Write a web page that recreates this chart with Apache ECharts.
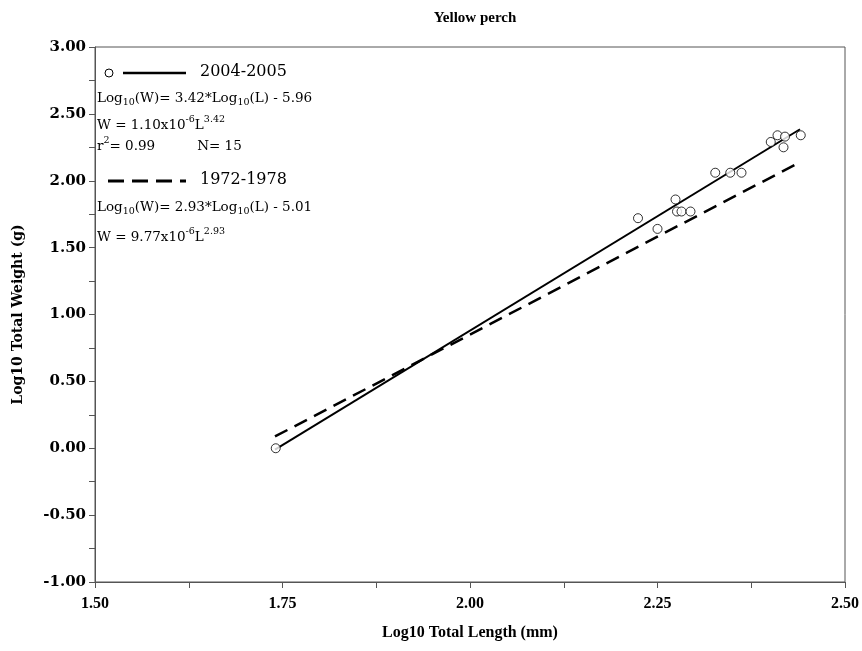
<!DOCTYPE html>
<html>
<head>
<meta charset="utf-8">
<script src="https://cdn.jsdelivr.net/npm/echarts@6/dist/echarts.min.js"></script>
<style>html,body{margin:0;padding:0;background:#fff;}#c{width:862px;height:651px;}</style>
</head>
<body>
<div id="c"></div>
<script>
// Observed fish (2004-2005): log10 length (mm), log10 weight (g)
const logLength = [1.741, 2.224, 2.250, 2.274, 2.276, 2.282, 2.294, 2.327, 2.347, 2.362, 2.401, 2.410, 2.420, 2.418, 2.441];
const logWeight = [0.00, 1.72, 1.64, 1.86, 1.77, 1.77, 1.77, 2.06, 2.06, 2.06, 2.29, 2.34, 2.33, 2.25, 2.34];
// Regression lines (end points)
const fitX = [1.74, 2.44];
const fit2004Y = [-0.01, 2.385];
const fit1972Y = [0.088, 2.139];
// Axis ticks
const xTicks = ['1.50', '1.75', '2.00', '2.25', '2.50'];
const yTicks = ['-1.00', '-0.50', '0.00', '0.50', '1.00', '1.50', '2.00', '2.50', '3.00'];

const chart = echarts.init(document.getElementById('c'));
const serif = "'Liberation Serif', 'Times New Roman', serif";
const dserif = "'DejaVu Serif', serif";
const rich = {
  a: {fontFamily: dserif, fontSize: 13.5, color: '#000', lineHeight: 20, verticalAlign: 'middle'},
  s: {fontFamily: dserif, fontSize: 9.5, color: '#000', lineHeight: 10, verticalAlign: 'bottom'},
  p: {fontFamily: dserif, fontSize: 9.5, color: '#000', lineHeight: 10, verticalAlign: 'top'},
  g: {width: 42, lineHeight: 20}
};
function txt(x, y, t) {
  return {type: 'text', left: x, top: y, z: 100, style: {text: t, rich: rich, fill: '#000'}};
}
chart.setOption({
  animation: false,
  backgroundColor: '#fff',
  title: {
    text: 'Yellow perch', left: 470, top: 6, textAlign: 'center',
    textStyle: {fontFamily: serif, fontWeight: 'bold', fontSize: 15, color: '#000'}
  },
  grid: {left: 95, top: 47, right: 17, bottom: 69, show: true, borderColor: '#555', borderWidth: 1},
  xAxis: {
    type: 'value', min: 1.5, max: 2.5, interval: 0.25,
    name: 'Log10 Total Length (mm)', nameLocation: 'middle', nameGap: 43,
    nameTextStyle: {fontFamily: serif, fontWeight: 'bold', fontSize: 16, color: '#000'},
    axisLine: {show: true, onZero: false, lineStyle: {color: '#555', width: 1}},
    axisTick: {show: true, inside: false, length: 6, lineStyle: {color: '#555'}},
    minorTick: {show: true, splitNumber: 2, length: 6, lineStyle: {color: '#555'}},
    splitLine: {show: false},
    axisLabel: {
      margin: 14, fontFamily: serif, fontWeight: 'bold', fontSize: 16, color: '#000',
      formatter: v => xTicks.find(t => Math.abs(parseFloat(t) - v) < 1e-6) || ''
    }
  },
  yAxis: {
    type: 'value', min: -1, max: 3, interval: 0.5,
    name: 'Log10 Total Weight (g)', nameLocation: 'middle', nameGap: 70,
    nameTextStyle: {fontFamily: dserif, fontWeight: 'bold', fontSize: 14, color: '#000'},
    axisLine: {show: true, onZero: false, lineStyle: {color: '#555', width: 1}},
    axisTick: {show: true, inside: false, length: 6, lineStyle: {color: '#555'}},
    minorTick: {show: true, splitNumber: 2, length: 6, lineStyle: {color: '#555'}},
    splitLine: {show: false},
    axisLabel: {
      margin: 9, fontFamily: dserif, fontWeight: 'bold', fontSize: 15, color: '#000',
      formatter: v => yTicks.find(t => Math.abs(parseFloat(t) - v) < 1e-6) || ''
    }
  },
  series: [
    {
      type: 'line', name: '2004-2005 fit', data: fitX.map((x, i) => [x, fit2004Y[i]]),
      symbol: 'none', lineStyle: {color: '#000', width: 2}, z: 3
    },
    {
      type: 'line', name: '1972-1978 fit', data: fitX.map((x, i) => [x, fit1972Y[i]]),
      symbol: 'none', lineStyle: {color: '#000', width: 2.5, type: [14, 8]}, z: 2
    },
    {
      type: 'scatter', name: '2004-2005', data: logLength.map((x, i) => [x, logWeight[i]]),
      symbol: 'circle', symbolSize: 9,
      itemStyle: {color: '#fff', borderColor: '#000', borderWidth: 1}, z: 5
    }
  ],
  graphic: [
    {type: 'circle', shape: {cx: 109, cy: 73, r: 4}, style: {fill: '#fff', stroke: '#000', lineWidth: 1}, z: 100},
    {type: 'line', shape: {x1: 123, y1: 73, x2: 186, y2: 73}, style: {stroke: '#000', lineWidth: 2.5}, z: 100},
    {type: 'text', left: 200, top: 64, z: 100, style: {text: '2004-2005', font: "16px 'DejaVu Serif'", fill: '#000'}},
    txt(97, 91, '{a|Log}{s|10}{a|(W)= 3.42*Log}{s|10}{a|(L) - 5.96}'),
    txt(97, 115, '{a|W = 1.10x10}{p|-6}{a|L}{p|3.42}'),
    txt(97, 136, '{a|r}{p|2}{a|= 0.99}{g|}{a|N= 15}'),
    {type: 'line', shape: {x1: 108, y1: 181, x2: 186, y2: 181}, style: {stroke: '#000', lineWidth: 3, lineDash: [16, 8]}, z: 100},
    {type: 'text', left: 200, top: 172, z: 100, style: {text: '1972-1978', font: "16px 'DejaVu Serif'", fill: '#000'}},
    txt(97, 200, '{a|Log}{s|10}{a|(W)= 2.93*Log}{s|10}{a|(L) - 5.01}'),
    txt(97, 227, '{a|W = 9.77x10}{p|-6}{a|L}{p|2.93}')
  ]
});
</script>
</body>
</html>
